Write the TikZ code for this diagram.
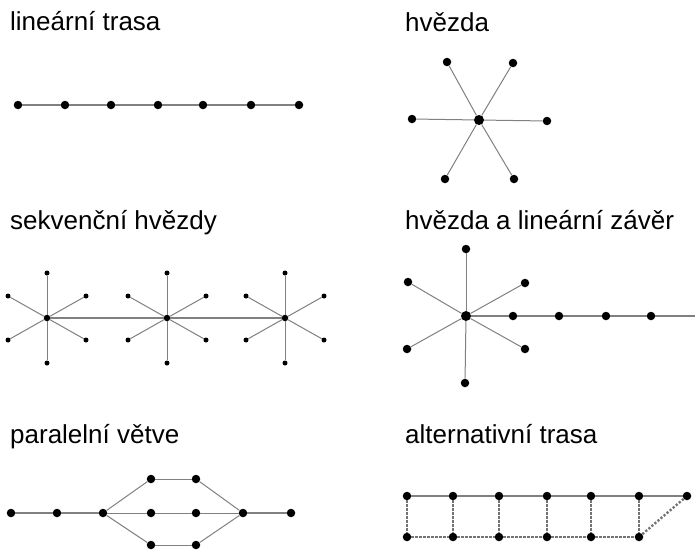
\documentclass[tikz,border=0pt]{standalone}
\usepackage{fontspec}
\setmainfont{Liberation Sans}
\begin{document}
\begin{tikzpicture}[x=1pt,y=-1pt,
  lbl/.style={anchor=base west,inner sep=0pt,font=\fontsize{26}{30}\selectfont},
  bigdot/.style={circle,fill=black,inner sep=0pt,minimum size=8.5pt},
  hubdot/.style={circle,fill=black,inner sep=0pt,minimum size=10pt},
  smalldot/.style={circle,fill=black,inner sep=0pt,minimum size=5pt},
  smallhub/.style={circle,fill=black,inner sep=0pt,minimum size=6.5pt},
  route/.style={draw=black!50,line width=2.2pt},
  spoke/.style={draw=black!50,line width=1pt},
  alt/.style={draw=black!55,line width=2.4pt,dash pattern=on 2.2pt off 1.8pt}]
\useasboundingbox (0,0) rectangle (695,549);

% ---------- labels
\node[lbl] (t1) at (10,30) {lineární trasa};
\node[lbl] (t2) at (405,31) {hvězda};
\node[lbl] (t3) at (10,229) {sekvenční hvězdy};
\node[lbl] (t4) at (405,229) {hvězda a lineární závěr};
\node[lbl] (t5) at (10,443) {paralelní větve};
\node[lbl] (t6) at (405,443) {alternativní trasa};

% ---------- panel 1: linear route
\foreach \i/\x in {1/18,2/65,3/111,4/158,5/203,6/251,7/299}
  \node[bigdot] (a\i) at (\x,105) {};
\foreach \i/\j in {1/2,2/3,3/4,4/5,5/6,6/7}
  \draw[route] (a\i) -- (a\j);

% ---------- panel 2: star
\node[hubdot] (bc) at (479,120) {};
\node[bigdot] (b1) at (447,62) {};
\node[bigdot] (b2) at (513,63) {};
\node[bigdot] (b3) at (412,119) {};
\node[bigdot] (b4) at (547,121) {};
\node[bigdot] (b5) at (445,179) {};
\node[bigdot] (b6) at (514,179) {};
\foreach \i in {1,...,6}
  \draw[spoke] (bc) -- (b\i);

% ---------- panel 3: sequential stars
\foreach \s/\cx in {1/47,2/167,3/285}{
  \node[smallhub] (c\s) at (\cx,318) {};
  \node[smalldot] (c\s t) at (\cx,273) {};
  \node[smalldot] (c\s b) at (\cx,363) {};
  \node[smalldot] (c\s ul) at (\cx-39,296) {};
  \node[smalldot] (c\s ur) at (\cx+39,296) {};
  \node[smalldot] (c\s ll) at (\cx-39,340) {};
  \node[smalldot] (c\s lr) at (\cx+39,340) {};
  \foreach \p in {t,b,ul,ur,ll,lr}
    \draw[spoke] (c\s) -- (c\s\p);
}
\draw[draw=black!50,line width=1.5pt] (c1) -- (c2);
\draw[draw=black!50,line width=1.5pt] (c2) -- (c3);

% ---------- panel 4: star with linear ending
\node[hubdot] (dc) at (466,316) {};
\node[bigdot] (dt) at (466,249) {};
\node[bigdot] (db) at (465,383) {};
\node[bigdot] (dul) at (408,282) {};
\node[bigdot] (dur) at (525,283) {};
\node[bigdot] (dll) at (407,349) {};
\node[bigdot] (dlr) at (525,349) {};
\foreach \p in {t,b,ul,ur,ll,lr}
  \draw[spoke] (dc) -- (d\p);
\node[bigdot] (d1) at (513,316) {};
\node[bigdot] (d2) at (559,316) {};
\node[bigdot] (d3) at (606,316) {};
\node[bigdot] (d4) at (651,316) {};
\coordinate (dend) at (695,316);
\draw[route] (dc) -- (d1);
\draw[route] (d1) -- (d2);
\draw[route] (d2) -- (d3);
\draw[route] (d3) -- (d4);
\draw[route] (d4) -- (dend);

% ---------- panel 5: parallel branches
\node[bigdot] (e1) at (11,513) {};
\node[bigdot] (e2) at (57,513) {};
\node[bigdot] (e3) at (103,513) {};
\node[bigdot] (em1) at (151,513) {};
\node[bigdot] (em2) at (196,513) {};
\node[bigdot] (eu1) at (151,479) {};
\node[bigdot] (eu2) at (196,479) {};
\node[bigdot] (el1) at (151,545) {};
\node[bigdot] (el2) at (196,545) {};
\node[bigdot] (e4) at (243,513) {};
\node[bigdot] (e5) at (291,513) {};
\draw[route] (e1) -- (e2);
\draw[route] (e2) -- (e3);
\draw[route] (e4) -- (e5);
\foreach \r in {u,m,l}{
  \draw[spoke] (e3) -- (e\r1);
  \draw[spoke] (e\r1) -- (e\r2);
  \draw[spoke] (e\r2) -- (e4);
}

% ---------- panel 6: alternative route
\foreach \i/\x in {1/407,2/453,3/499,4/547,5/591,6/639}{
  \node[bigdot] (f\i) at (\x,496) {};
  \node[bigdot] (g\i) at (\x,537) {};
}
\node[bigdot] (f7) at (687,496) {};
\foreach \i/\j in {1/2,2/3,3/4,4/5,5/6,6/7}
  \draw[route] (f\i) -- (f\j);
\foreach \i/\j in {1/2,2/3,3/4,4/5,5/6}
  \draw[alt] (g\i) -- (g\j);
\foreach \i in {1,...,6}
  \draw[alt] (f\i) -- (g\i);
\draw[alt] (g6) -- (f7);
\end{tikzpicture}
\end{document}
